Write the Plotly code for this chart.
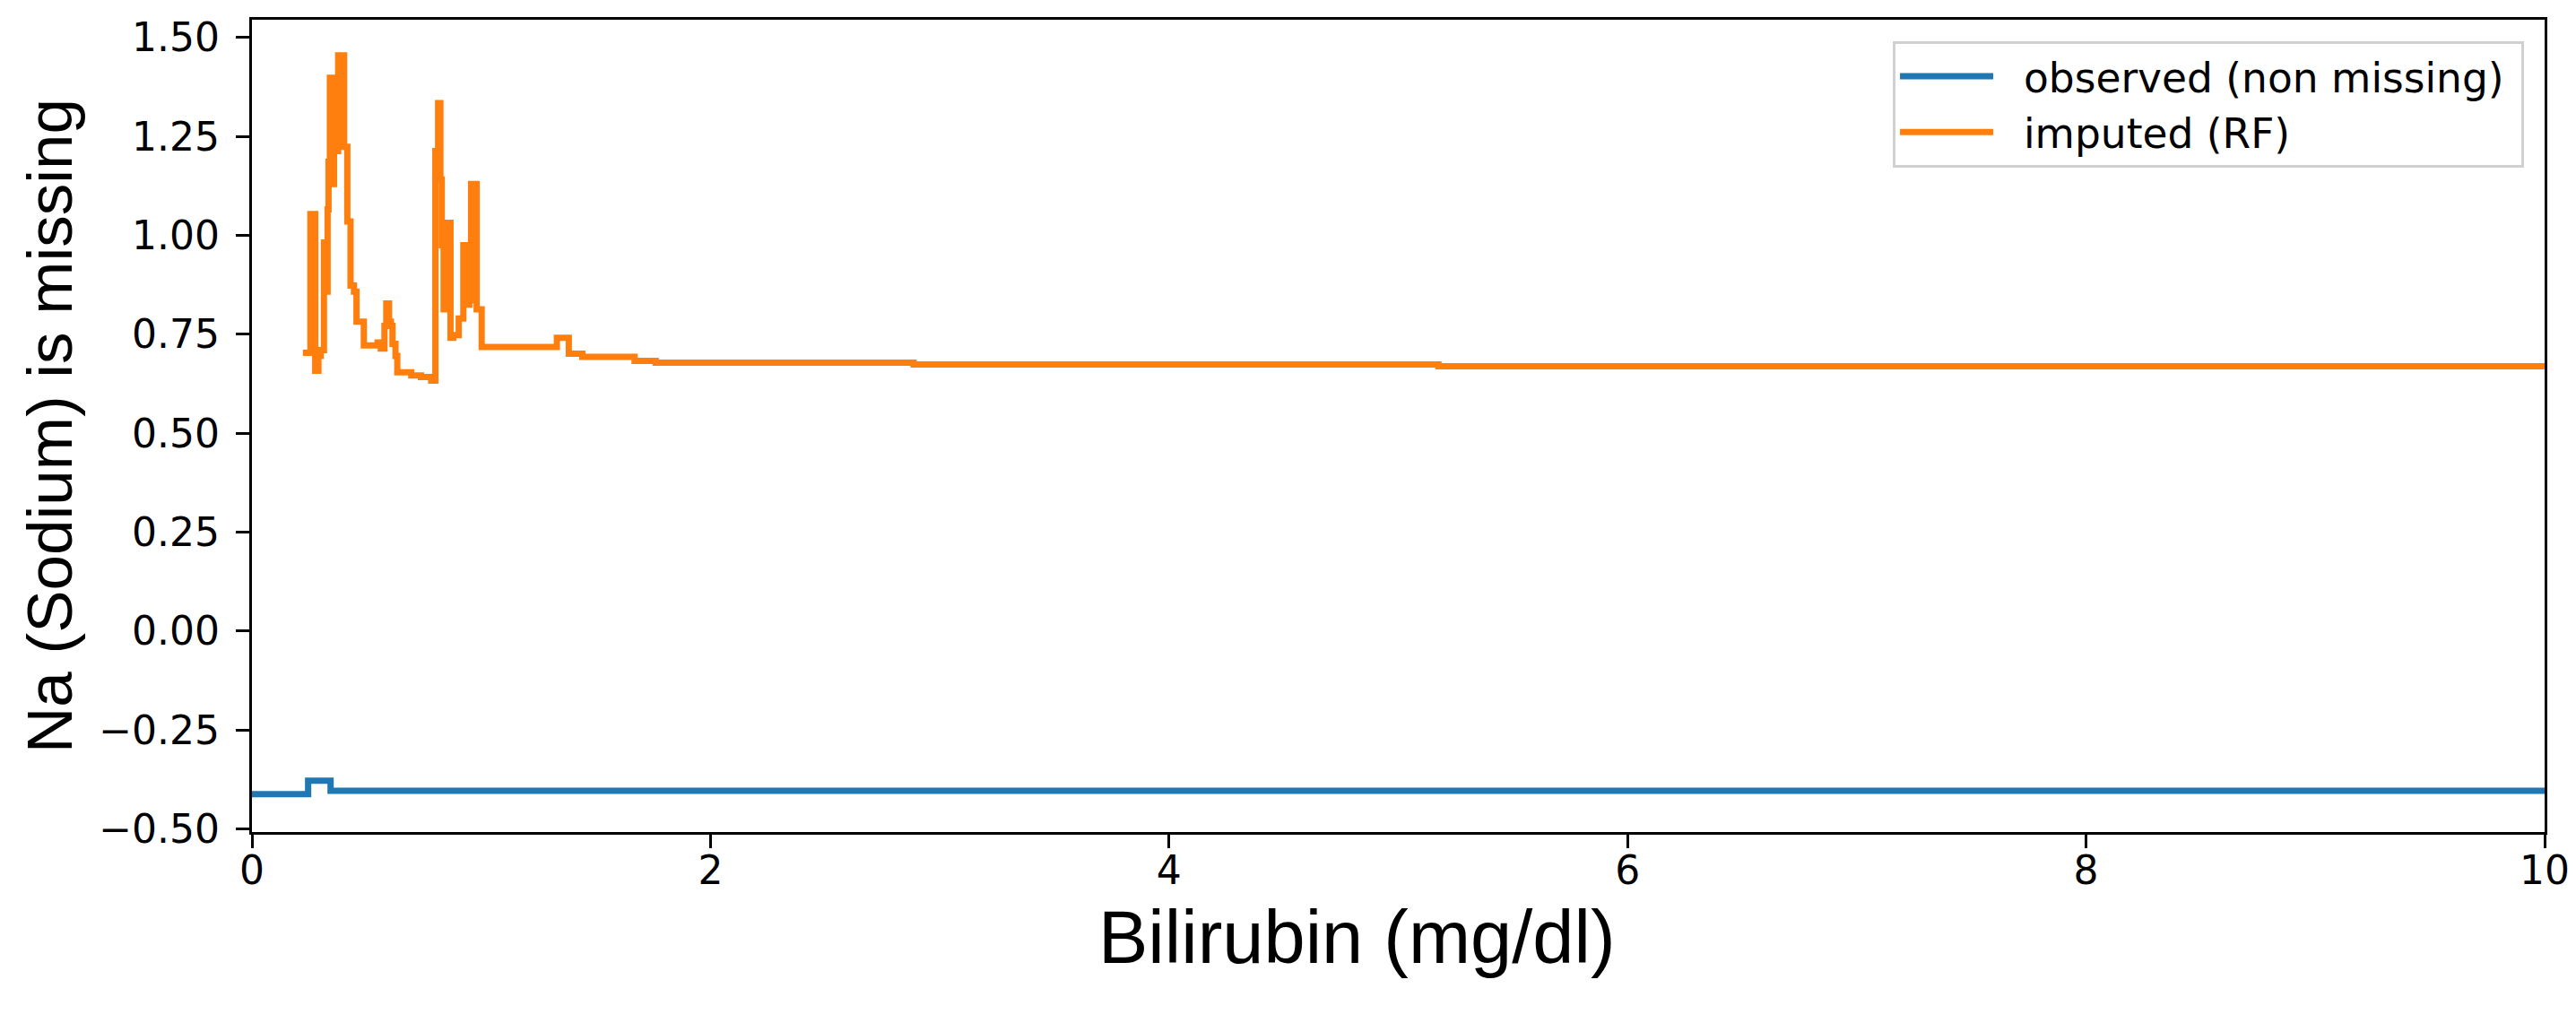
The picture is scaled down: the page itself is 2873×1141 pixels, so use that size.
import plotly.graph_objects as go

# observed (non missing) - step curve
obs_x = [0.0, 0.245, 0.343, 10.0]
obs_y = [-0.412, -0.378, -0.404, -0.404]

# imputed (RF) - step curve
imp_x = [0.222, 0.255, 0.262, 0.268, 0.276, 0.290, 0.300, 0.314, 0.326, 0.330,
         0.334, 0.340, 0.350, 0.358, 0.366, 0.376, 0.402, 0.416, 0.430, 0.445,
         0.456, 0.488, 0.548, 0.562, 0.578, 0.586, 0.598, 0.606, 0.613, 0.626,
         0.634, 0.695, 0.737, 0.782, 0.800, 0.812, 0.822, 0.828, 0.836, 0.852,
         0.866, 0.878, 0.902, 0.922, 0.936, 0.948, 0.956, 0.980, 1.002, 1.330,
         1.382, 1.441, 1.669, 1.761, 2.886, 5.175, 10.0]
imp_y = [0.703, 1.054, 0.703, 1.054, 0.658, 0.695, 0.710, 0.982, 0.858, 1.066,
         1.186, 1.398, 1.130, 1.262, 1.213, 1.455, 1.224, 1.035, 0.873, 0.858,
         0.782, 0.722, 0.729, 0.714, 0.771, 0.828, 0.782, 0.771, 0.726, 0.695,
         0.654, 0.646, 0.642, 0.633, 1.213, 1.334, 1.141, 0.975, 0.813, 1.032,
         0.741, 0.748, 0.790, 0.975, 0.825, 0.836, 1.130, 0.813, 0.718, 0.741,
         0.701, 0.693, 0.683, 0.678, 0.674, 0.669, 0.669]

x_ticks = [0, 2, 4, 6, 8, 10]
y_ticks = [-0.5, -0.25, 0.0, 0.25, 0.5, 0.75, 1.0, 1.25, 1.5]
y_ticktext = [f"{v:.2f}".replace("-", "\u2212") for v in y_ticks]

NB = "\u00a0"

fig = go.Figure()
fig.add_trace(go.Scatter(x=obs_x, y=obs_y, mode='lines', name=NB * 2 + 'observed (non missing)' + NB,
                         line=dict(color='#1f77b4', width=7, shape='hv')))
fig.add_trace(go.Scatter(x=imp_x, y=imp_y, mode='lines', name=NB * 2 + 'imputed (RF)',
                         line=dict(color='#ff7f0e', width=7, shape='hv')))

tick_font = dict(family='DejaVu Sans', size=44, color='black')

# page body has an 8px margin, so the figure is sized to fit inside it
fig.update_layout(
    width=2857, height=1125,
    margin=dict(l=273, r=27, t=14, b=205, autoexpand=False),
    paper_bgcolor='white', plot_bgcolor='white',
    showlegend=True,
    legend=dict(x=0.7157, y=0.9735, xanchor='left', yanchor='top',
                bgcolor='rgba(255,255,255,0.8)', bordercolor='#d0d0d0', borderwidth=3,
                font=dict(family='DejaVu Sans', size=45.5, color='black'),
                itemwidth=104, tracegroupgap=0),
    xaxis=dict(range=[0, 10], tickvals=x_ticks, ticks='outside', ticklen=15, tickwidth=3,
               tickcolor='black', showline=True, linecolor='black', linewidth=3.3, mirror=True,
               showgrid=False, zeroline=False, tickfont=tick_font, ticklabelstandoff=-13,
               ticklabeloverflow='allow', automargin=False),
    yaxis=dict(range=[-0.508, 1.545], tickvals=y_ticks, ticktext=y_ticktext, ticks='outside',
               ticklen=15, tickwidth=3, tickcolor='black', showline=True, linecolor='black',
               linewidth=3.3, mirror=True, showgrid=False, zeroline=False, tickfont=tick_font,
               ticklabelstandoff=9, automargin=False),
    annotations=[
        dict(text='Bilirubin (mg/dl)', x=0.482, y=-0.1296, xref='paper', yref='paper',
             xanchor='center', yanchor='middle', showarrow=False,
             font=dict(family='Liberation Sans, Arial', size=83, color='black')),
        dict(text='Na (Sodium) is missing', x=-0.0884, y=0.5, xref='paper', yref='paper',
             xanchor='center', yanchor='middle', textangle=-90, showarrow=False,
             font=dict(family='Liberation Sans, Arial', size=71, color='black')),
    ],
)

fig.write_html("out.html")
